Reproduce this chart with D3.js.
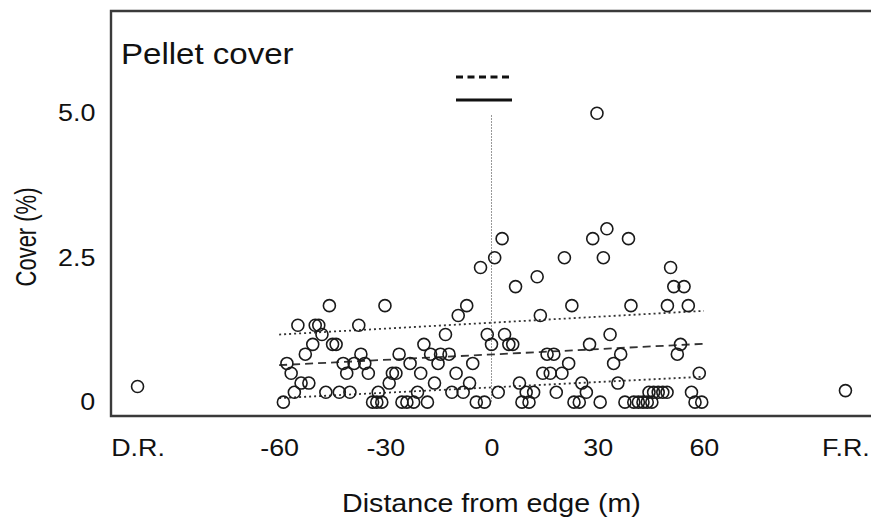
<!DOCTYPE html>
<html>
<head>
<meta charset="utf-8">
<script src="https://cdn.jsdelivr.net/npm/d3@7"></script>
<style>
  body { margin: 0; background: #fff; }
  svg text { font-family: "Liberation Sans", Arial, sans-serif; fill: #111; }
</style>
</head>
<body>
<div id="chart"></div>
<script>
// cover levels (%) and the distances (m) of the points sitting on each level
var coverLevels = [0, 0.17, 0.33, 0.5, 0.67, 0.83, 1.0, 1.17, 1.33, 1.5, 1.67, 2.0, 2.17, 2.33, 2.5, 2.83, 3.0, 5.0];
var distanceByLevel = [
  [-58.8, -33.6, -32.4, -31.0, -25.3, -23.9, -22.0, -18.1, -4.3, -2.0, 8.6, 10.6, 23.3, 24.8, 30.7, 37.7, 40.2, 41.5, 42.8, 44.0, 45.3, 57.5, 59.4],
  [-55.7, -46.8, -43.0, -40.0, -32.0, -20.9, -11.2, -8.0, 1.9, 9.8, 11.9, 18.3, 26.8, 44.5, 45.8, 47.1, 48.4, 49.6, 56.5],
  [-53.8, -51.6, -28.9, -16.1, -6.2, 7.9, 25.5, 35.7],
  [-56.6, -40.9, -34.8, -28.0, -27.0, -20.0, -10.0, 14.5, 16.6, 19.9, 58.7],
  [-57.8, -41.9, -38.8, -35.8, -23.0, -15.1, -5.3, 21.8, 34.5],
  [-52.6, -36.9, -26.1, -17.2, -14.4, -12.0, 15.7, 17.6, 36.5, 52.5],
  [-50.5, -44.9, -43.9, -19.1, 0, 4.9, 6.0, 27.7, 53.4],
  [-47.9, -13.0, -1.2, 3.7, 33.5],
  [-54.7, -49.8, -48.8, -37.5],
  [-9.4, 13.8],
  [-45.8, -30.1, -7.0, 22.7, 39.4, 49.7, 55.6],
  [6.8, 51.5, 54.4],
  [12.9],
  [-3.1, 50.6],
  [0.9, 20.6, 31.6],
  [3.0, 28.6, 38.7],
  [32.6],
  [29.8]
];

// reference sites (D.R. and F.R.)
var refX = [-100, 100];
var refCover = [0.27, 0.2];

// fitted lines
var fitX = [-60, 60];
var upperFit = [1.17, 1.58];
var midFit = [0.64, 1.01];
var lowerFit = [0.07, 0.44];

var xTicks = [-100, -60, -30, 0, 30, 60, 100];
var xTickLabels = ["D.R.", "-60", "-30", "0", "30", "60", "F.R."];
var yTicks = [0, 2.5, 5];
var yTickLabels = ["0", "2.5", "5.0"];

var w = 871, h = 519;
var plotL = 111, plotR = 872, plotT = 11, plotB = 416;
var sx = 1.12; // glyphs in the picture are a bit wide

var points = [];
distanceByLevel.forEach(function(list, i) {
  list.forEach(function(d) { points.push({ x: d, y: coverLevels[i] }); });
});
refX.forEach(function(d, i) { points.push({ x: d, y: refCover[i] }); });

var x = d3.scaleLinear().domain([-107.5, 107.5]).range([plotL, plotR]);
var y = d3.scaleLinear().domain([-0.24, 6.77]).range([plotB, plotT]);

var svg = d3.select("#chart")
  .append("svg")
  .attr("width", w)
  .attr("height", h);

// frame (right side runs off the picture)
svg.append("path")
  .attr("d", "M" + plotR + "," + plotT + "H" + plotL + "V" + plotB + "H" + plotR)
  .attr("fill", "none")
  .attr("stroke", "#3a3a3a")
  .attr("stroke-width", 2.4);

// vertical reference line at the edge
svg.append("line")
  .attr("x1", x(0)).attr("x2", x(0))
  .attr("y1", y(5) + 2).attr("y2", y(0))
  .attr("stroke", "#777")
  .attr("stroke-width", 1)
  .attr("stroke-dasharray", "1.5,1.5");

// fitted lines
var line = d3.line()
  .x(function(d) { return x(d[0]); })
  .y(function(d) { return y(d[1]); });

[[upperFit, "2,3"], [midFit, "8,5"], [lowerFit, "2,3"]].forEach(function(f) {
  svg.append("path")
    .datum(fitX.map(function(d, i) { return [d, f[0][i]]; }))
    .attr("d", line)
    .attr("fill", "none")
    .attr("stroke", "#333")
    .attr("stroke-width", 1.8)
    .attr("stroke-dasharray", f[1]);
});

// points
svg.selectAll("circle.pt")
  .data(points)
  .enter()
  .append("circle")
  .attr("class", "pt")
  .attr("cx", function(d) { return x(d.x); })
  .attr("cy", function(d) { return y(d.y); })
  .attr("r", 6)
  .attr("fill", "none")
  .attr("stroke", "#1a1a1a")
  .attr("stroke-width", 1.6);

// legend keys
svg.append("line")
  .attr("x1", 456).attr("x2", 512).attr("y1", 77).attr("y2", 77)
  .attr("stroke", "#111").attr("stroke-width", 3)
  .attr("stroke-dasharray", "7,4.5");
svg.append("line")
  .attr("x1", 456).attr("x2", 512).attr("y1", 100).attr("y2", 100)
  .attr("stroke", "#111").attr("stroke-width", 3);

// axes
var xAxis = svg.append("g")
  .attr("transform", "translate(0," + plotB + ")")
  .call(d3.axisBottom(x).tickValues(xTicks)
    .tickFormat(function(d, i) { return xTickLabels[i]; })
    .tickSize(0).tickPadding(23));
xAxis.select(".domain").remove();
xAxis.selectAll("text")
  .attr("font-size", 24)
  .attr("transform", "scale(" + sx + ",1)");

var yAxis = svg.append("g")
  .attr("transform", "translate(" + plotL + ",0)")
  .call(d3.axisLeft(y).tickValues(yTicks)
    .tickFormat(function(d, i) { return yTickLabels[i]; })
    .tickSize(0).tickPadding(14));
yAxis.select(".domain").remove();
yAxis.selectAll("text")
  .attr("font-size", 24)
  .attr("transform", "scale(" + sx + ",1)");
svg.selectAll(".tick text").style("fill", "#111");

// titles
svg.append("text")
  .attr("transform", "translate(121,64) scale(1.14,1)")
  .attr("font-size", 29)
  .text("Pellet cover");

svg.append("text")
  .attr("transform", "translate(" + x(0) + ",512) scale(1.1,1)")
  .attr("text-anchor", "middle")
  .attr("font-size", 26)
  .text("Distance from edge (m)");

svg.append("text")
  .attr("transform", "translate(36,237) scale(1.3,1) rotate(-90)")
  .attr("text-anchor", "middle")
  .attr("font-size", 22)
  .text("Cover (%)");
</script>
</body>
</html>
